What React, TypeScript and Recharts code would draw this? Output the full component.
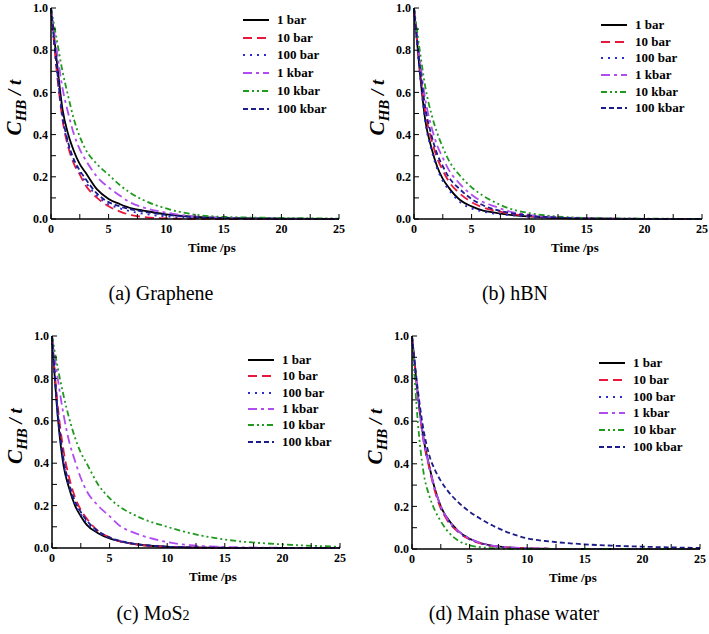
import React from 'react';
import { LineChart, Line, XAxis, YAxis, Legend, Label } from 'recharts';

const times = [0, 0.5, 1, 1.5, 2, 2.5, 3, 4, 5, 6, 7, 8, 10, 12, 15, 20, 25];
const seriesNames = ['1 bar', '10 bar', '100 bar', '1 kbar', '10 kbar', '100 kbar'];
const xTicks = [0, 2.5, 5, 7.5, 10, 12.5, 15, 17.5, 20, 22.5, 25];
const yTicks = [0, 0.1, 0.2, 0.3, 0.4, 0.5, 0.6, 0.7, 0.8, 0.9, 1.0];

// (a) Graphene
const gr1bar = [1, 0.75, 0.52, 0.4, 0.32, 0.26, 0.22, 0.14, 0.095, 0.07, 0.05, 0.04, 0.022, 0.012, 0.005, 0.002, 0];
const gr10bar = [1, 0.7, 0.47, 0.34, 0.26, 0.21, 0.16, 0.1, 0.06, 0.035, 0.018, 0.01, 0.003, 0.001, 0, 0, 0];
const gr100bar = [1, 0.71, 0.48, 0.35, 0.27, 0.22, 0.175, 0.11, 0.07, 0.05, 0.035, 0.025, 0.012, 0.005, 0.002, 0, 0];
const gr1kbar = [1, 0.8, 0.62, 0.5, 0.4, 0.33, 0.28, 0.2, 0.15, 0.11, 0.075, 0.055, 0.03, 0.015, 0.006, 0.002, 0];
const gr10kbar = [1, 0.85, 0.7, 0.58, 0.47, 0.39, 0.33, 0.26, 0.21, 0.16, 0.12, 0.09, 0.05, 0.025, 0.01, 0.005, 0.002];
const gr100kbar = [1, 0.72, 0.49, 0.36, 0.28, 0.23, 0.19, 0.12, 0.08, 0.06, 0.045, 0.035, 0.02, 0.01, 0.004, 0.001, 0];

// (b) hBN
const bn1bar = [1, 0.7, 0.46, 0.34, 0.25, 0.19, 0.15, 0.09, 0.06, 0.04, 0.03, 0.022, 0.012, 0.006, 0.002, 0, 0];
const bn10bar = [1, 0.72, 0.5, 0.38, 0.29, 0.23, 0.18, 0.12, 0.08, 0.055, 0.04, 0.028, 0.014, 0.007, 0.003, 0, 0];
const bn100bar = [1, 0.69, 0.45, 0.33, 0.24, 0.18, 0.14, 0.08, 0.05, 0.035, 0.025, 0.02, 0.01, 0.005, 0.002, 0, 0];
const bn1kbar = [1, 0.76, 0.56, 0.44, 0.35, 0.29, 0.235, 0.165, 0.115, 0.08, 0.06, 0.04, 0.02, 0.01, 0.004, 0.001, 0];
const bn10kbar = [1, 0.8, 0.62, 0.5, 0.41, 0.34, 0.28, 0.205, 0.15, 0.11, 0.08, 0.055, 0.028, 0.014, 0.005, 0.002, 0];
const bn100kbar = [1, 0.73, 0.52, 0.4, 0.31, 0.25, 0.2, 0.14, 0.095, 0.065, 0.045, 0.032, 0.016, 0.008, 0.003, 0, 0];

// (c) MoS2
const mo1bar = [1, 0.62, 0.39, 0.28, 0.2, 0.15, 0.11, 0.07, 0.045, 0.03, 0.02, 0.013, 0.006, 0.003, 0.001, 0, 0];
const mo10bar = [1, 0.67, 0.46, 0.33, 0.24, 0.18, 0.14, 0.08, 0.05, 0.03, 0.02, 0.012, 0.005, 0.002, 0, 0, 0];
const mo100bar = [1, 0.63, 0.4, 0.29, 0.21, 0.16, 0.12, 0.075, 0.048, 0.03, 0.02, 0.013, 0.006, 0.003, 0.001, 0, 0];
const mo1kbar = [1, 0.8, 0.63, 0.5, 0.41, 0.33, 0.27, 0.2, 0.15, 0.1, 0.075, 0.055, 0.028, 0.013, 0.005, 0.001, 0];
const mo10kbar = [1, 0.85, 0.72, 0.61, 0.52, 0.45, 0.4, 0.3, 0.235, 0.19, 0.16, 0.135, 0.1, 0.07, 0.04, 0.017, 0.006];
const mo100kbar = [1, 0.64, 0.42, 0.3, 0.22, 0.17, 0.13, 0.08, 0.05, 0.032, 0.021, 0.014, 0.006, 0.003, 0.001, 0, 0];

// (d) Main phase water
const wa1bar = [1, 0.73, 0.52, 0.39, 0.28, 0.2, 0.15, 0.085, 0.048, 0.027, 0.015, 0.009, 0.003, 0.001, 0, 0, 0];
const wa10bar = [1, 0.72, 0.51, 0.38, 0.27, 0.19, 0.14, 0.08, 0.045, 0.025, 0.014, 0.008, 0.003, 0.001, 0, 0, 0];
const wa100bar = [1, 0.72, 0.51, 0.385, 0.275, 0.195, 0.145, 0.082, 0.046, 0.026, 0.014, 0.008, 0.003, 0.001, 0, 0, 0];
const wa1kbar = [1, 0.725, 0.515, 0.385, 0.28, 0.2, 0.148, 0.085, 0.05, 0.028, 0.016, 0.01, 0.004, 0.001, 0, 0, 0];
const wa10kbar = [1, 0.6, 0.36, 0.25, 0.18, 0.13, 0.09, 0.04, 0.018, 0.008, 0.004, 0.002, 0, 0, 0, 0, 0];
const wa100kbar = [1, 0.75, 0.56, 0.44, 0.37, 0.32, 0.28, 0.22, 0.175, 0.14, 0.11, 0.085, 0.05, 0.035, 0.022, 0.011, 0.005];

const FONT = '"Liberation Serif", "Times New Roman", serif';

const styles = [
  { color: '#000000', dash: undefined },
  { color: '#e8183c', dash: '9 5' },
  { color: '#2a2ad0', dash: '2 5' },
  { color: '#b04cf0', dash: '9 4 3 4' },
  { color: '#1f9a1f', dash: '6 3 2 3 2 3' },
  { color: '#1c1c8a', dash: '5 3' },
];

const buildRows = (series: number[][]) =>
  times.map((t, i) => {
    const row: any = { t };
    series.forEach((s, k) => (row['s' + k] = s[i]));
    return row;
  });

const panels = [
  { caption: 'a', series: [gr1bar, gr10bar, gr100bar, gr1kbar, gr10kbar, gr100kbar] },
  { caption: 'b', series: [bn1bar, bn10bar, bn100bar, bn1kbar, bn10kbar, bn100kbar] },
  { caption: 'c', series: [mo1bar, mo10bar, mo100bar, mo1kbar, mo10kbar, mo100kbar] },
  { caption: 'd', series: [wa1bar, wa10bar, wa100bar, wa1kbar, wa10kbar, wa100kbar] },
];

const LegendBox = ({ rowH }: { rowH: number }) => (
  <div style={{ fontFamily: FONT, fontWeight: 'bold', fontSize: 13, color: '#000' }}>
    {seriesNames.map((n, i) => (
      <div key={n} style={{ display: 'flex', alignItems: 'center', height: rowH }}>
        <svg width={28} height={8}>
          <line x1={1} x2={27} y1={4} y2={4} stroke={styles[i].color} strokeWidth={2} strokeDasharray={styles[i].dash} />
        </svg>
        <span style={{ marginLeft: 7, whiteSpace: 'nowrap' }}>{n}</span>
      </div>
    ))}
  </div>
);

const YTitle = (props: any) => {
  const { viewBox } = props;
  const cx = 21;
  const cy = viewBox.y + viewBox.height / 2 - 6;
  return (
    <text transform={`translate(${cx},${cy}) rotate(-90)`} textAnchor="middle" fontFamily={FONT} fontWeight="bold" fontStyle="italic" fill="#000">
      <tspan fontSize={21}>C</tspan>
      <tspan fontSize={15} dy={5}>HB</tspan>
      <tspan fontSize={19} dy={-5}> / t</tspan>
    </text>
  );
};

const XTitle = (props: any) => {
  const { viewBox } = props;
  return (
    <text x={viewBox.x + viewBox.width / 2 + 17} y={viewBox.y + 33} textAnchor="middle" fontFamily={FONT} fontWeight="bold" fontSize={13} fill="#000">
      Time /ps
    </text>
  );
};

const tickStyle = { fontFamily: FONT, fontWeight: 'bold', fontSize: 12, fill: '#000' };

const Panel = ({ series, width, height, legendLeft, legendTop, rowH }: any) => {
  const data = buildRows(series);
  return (
    <LineChart width={width} height={height} data={data} margin={{ top: 8, right: width - 51 - 288, left: 0, bottom: 0 }}>
      <XAxis
        dataKey="t"
        type="number"
        domain={[0, 25]}
        ticks={xTicks}
        tickFormatter={(v: number) => (v % 5 === 0 ? String(v) : '')}
        height={41}
        tickSize={-5}
        tickMargin={10}
        tick={tickStyle}
        axisLine={{ stroke: '#000', strokeWidth: 1.5 }}
        tickLine={{ stroke: '#000' }}
        interval={0}
      >
        <Label content={XTitle} />
      </XAxis>
      <XAxis xAxisId="top" orientation="top" type="number" domain={[0, 25]} height={0} tick={false} tickLine={false} axisLine={{ stroke: '#000', strokeWidth: 1.5 }} />
      <YAxis
        type="number"
        domain={[0, 1]}
        ticks={yTicks}
        tickFormatter={(v: number) => (Math.round(v * 10) % 2 === 0 ? v.toFixed(1) : '')}
        width={51}
        tickSize={-5}
        tickMargin={8}
        tick={tickStyle}
        axisLine={{ stroke: '#000', strokeWidth: 1.5 }}
        tickLine={{ stroke: '#000' }}
        interval={0}
      >
        <Label content={YTitle} />
      </YAxis>
      <YAxis yAxisId="right" orientation="right" type="number" domain={[0, 1]} width={0} tick={false} tickLine={false} axisLine={{ stroke: '#000', strokeWidth: 1.5 }} />
      <Legend
        layout="vertical"
        align="center"
        verticalAlign="middle"
        wrapperStyle={{ left: legendLeft, top: legendTop, width: 'auto', height: 'auto' }}
        content={() => <LegendBox rowH={rowH} />}
      />
      {series.map((_: number[], k: number) => (
        <Line
          key={k}
          dataKey={'s' + k}
          name={seriesNames[k]}
          type="monotone"
          stroke={styles[k].color}
          strokeWidth={1.8}
          strokeDasharray={styles[k].dash}
          dot={false}
          isAnimationActive={false}
        />
      ))}
    </LineChart>
  );
};

const Caption = ({ cx, cy, children }: any) => (
  <div style={{ position: 'absolute', left: cx - 150, top: cy - 12, width: 300, textAlign: 'center', fontFamily: FONT, fontSize: 20, lineHeight: '24px', color: '#000' }}>
    {children}
  </div>
);

export default function App() {
  return (
    <div style={{ position: 'absolute', left: 0, top: 0, width: 709, height: 634, background: '#fff', overflow: 'hidden' }}>
      <div style={{ position: 'absolute', left: 0, top: 0 }}>
        <Panel series={panels[0].series} width={354} height={260} legendLeft={242} legendTop={11} rowH={17.8} />
      </div>
      <div style={{ position: 'absolute', left: 363, top: 0 }}>
        <Panel series={panels[1].series} width={346} height={260} legendLeft={237} legendTop={16.5} rowH={16.7} />
      </div>
      <div style={{ position: 'absolute', left: 1, top: 328 }}>
        <Panel series={panels[2].series} width={354} height={261} legendLeft={246} legendTop={24} rowH={16.3} />
      </div>
      <div style={{ position: 'absolute', left: 361, top: 328 }}>
        <Panel series={panels[3].series} width={348} height={262} legendLeft={237} legendTop={27} rowH={16.7} />
      </div>
      <Caption cx={161} cy={293}>(a) Graphene</Caption>
      <Caption cx={515} cy={293}>(b) hBN</Caption>
      <Caption cx={153} cy={613}>
        (c) MoS<span style={{ fontSize: 14 }}>2</span>
      </Caption>
      <Caption cx={514} cy={613}>(d) Main phase water</Caption>
    </div>
  );
}
